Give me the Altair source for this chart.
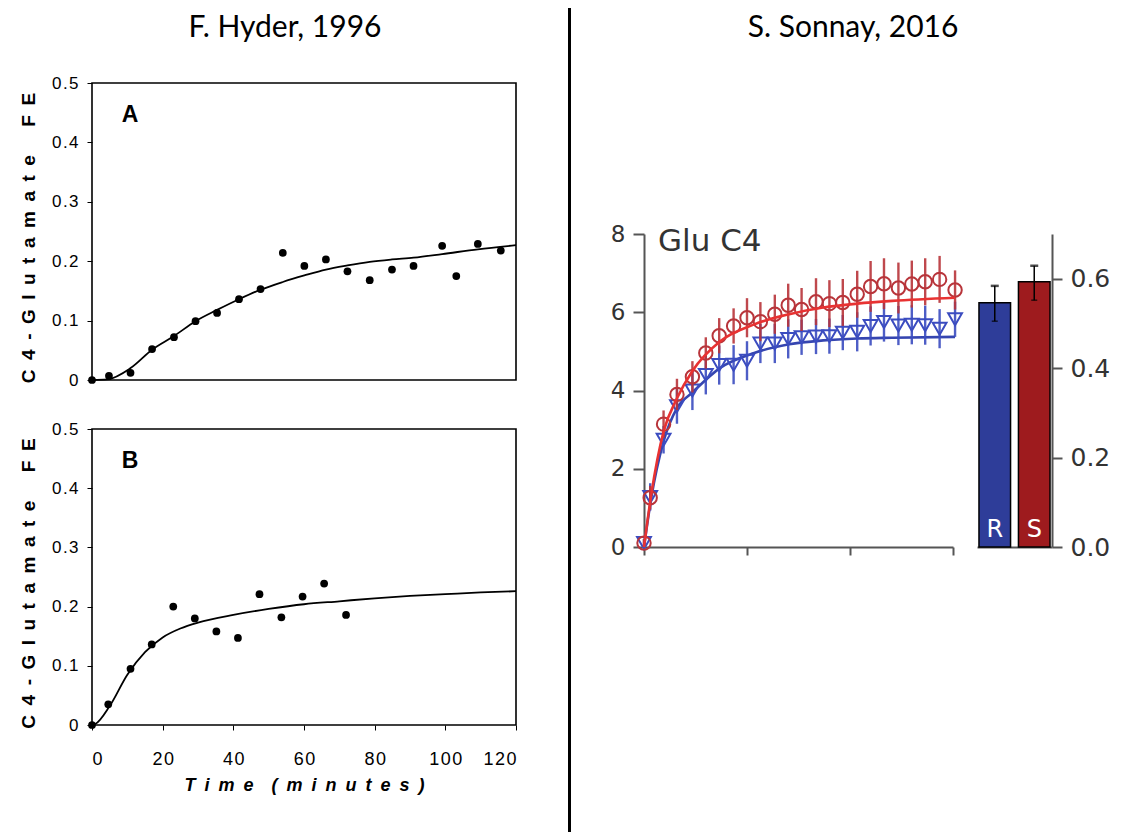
import altair as alt
import pandas as pd

# ---------------- Left: F. Hyder, 1996 ----------------
TITLE_LEFT = "F. Hyder, 1996"
TITLE_RIGHT = "S. Sonnay, 2016"

A_time = [0, 4.8, 10.9, 17.0, 23.2, 29.3, 35.4, 41.6, 47.7, 54.0, 60.1, 66.2, 72.3, 78.6, 84.9, 91.0, 99.1, 103.1, 109.2, 115.7]
A_fe = [0.000, 0.007, 0.012, 0.052, 0.072, 0.099, 0.113, 0.136, 0.153, 0.214, 0.192, 0.203, 0.183, 0.168, 0.186, 0.192, 0.226, 0.175, 0.229, 0.218]
A_fit_time = [0, 4.3, 10.9, 17.0, 23.2, 29.3, 35.4, 41.6, 47.7, 54.0, 60.1, 66.2, 72.3, 78.6, 84.9, 91.0, 99.1, 109.2, 120]
A_fit_fe = [0.000, 0.001, 0.020, 0.051, 0.074, 0.099, 0.118, 0.136, 0.152, 0.165, 0.176, 0.186, 0.193, 0.199, 0.203, 0.206, 0.212, 0.220, 0.227]

B_time = [0, 4.6, 10.9, 16.9, 23.0, 29.1, 35.2, 41.3, 47.4, 53.6, 59.6, 65.7, 71.9]
B_fe = [0.000, 0.035, 0.095, 0.136, 0.200, 0.180, 0.158, 0.147, 0.221, 0.182, 0.217, 0.239, 0.186]
B_fit_time = [0, 1, 5, 10, 15, 20, 25, 30, 40, 50, 60, 70, 80, 90, 100, 110, 120]
B_fit_fe = [0.000, 0.002, 0.032, 0.085, 0.123, 0.148, 0.163, 0.173, 0.186, 0.196, 0.204, 0.209, 0.214, 0.218, 0.221, 0.224, 0.226]

PANEL_LETTERS = ["A", "B"]
Y_TITLE = "C4-Glutamate FE"
X_TITLE = "Time (minutes)"

# ---------------- Right: S. Sonnay, 2016 ----------------
S_time = [0, 6, 19, 32, 47, 60, 73, 87, 100, 113, 127, 140, 153, 167, 180, 193, 207, 220, 233, 247, 260, 273, 287, 302]
S_red = [0.10, 1.26, 3.14, 3.90, 4.35, 4.96, 5.40, 5.65, 5.86, 5.76, 5.95, 6.18, 6.07, 6.27, 6.22, 6.25, 6.46, 6.66, 6.73, 6.62, 6.72, 6.78, 6.84, 6.57]
S_red_err = [0.10, 0.30, 0.35, 0.40, 0.40, 0.40, 0.45, 0.45, 0.50, 0.50, 0.50, 0.55, 0.55, 0.60, 0.60, 0.60, 0.60, 0.65, 0.65, 0.65, 0.60, 0.60, 0.60, 0.50]
S_blue = [0.10, 1.28, 2.74, 3.60, 4.00, 4.40, 4.65, 4.66, 4.76, 5.20, 5.20, 5.32, 5.36, 5.38, 5.39, 5.48, 5.50, 5.65, 5.75, 5.66, 5.68, 5.67, 5.58, 5.82]
S_blue_err = [0.10, 0.35, 0.35, 0.45, 0.50, 0.50, 0.50, 0.50, 0.50, 0.50, 0.50, 0.50, 0.45, 0.45, 0.45, 0.45, 0.50, 0.50, 0.50, 0.50, 0.50, 0.50, 0.50, 0.45]
FIT_time = [0, 7, 19, 32, 47, 74, 107, 141, 174, 207, 241, 302]
FIT_red = [0.00, 1.33, 2.95, 3.80, 4.50, 5.26, 5.69, 5.95, 6.12, 6.22, 6.29, 6.37]
FIT_blue = [0.00, 1.25, 2.70, 3.55, 3.95, 4.58, 4.96, 5.18, 5.28, 5.33, 5.35, 5.37]
GLU_LABEL = "Glu C4"

BAR_cond = ["R", "S"]
BAR_val = [0.546, 0.593]
BAR_lo = [0.505, 0.552]
BAR_hi = [0.584, 0.629]

# ---------------- helpers ----------------
EN = "\u2002"
HAIR = "\u200a"


def spaced(text, gap=EN, word_gap=EN * 3):
    words = text.split(" ")
    return word_gap.join(gap.join(list(w)) for w in words)


LEFT_FONT = "Liberation Sans"
RIGHT_FONT = "DejaVu Sans"


def hyder_panel(times, fe, fit_t, fit_v, letter, show_x, h):
    pts = pd.DataFrame({"t": times, "fe": fe})
    fit = pd.DataFrame({"t": fit_t, "fe": fit_v})
    if show_x:
        xaxis = alt.Axis(
            values=[0, 20, 40, 60, 80, 100, 120], title=spaced(X_TITLE, EN, EN * 2),
            labelExpr="join(split(datum.label, ''), '" + HAIR + "')",
            labelFont=LEFT_FONT, labelFontSize=18, labelColor="black", labelPadding=20,
            tickSize=5, tickColor="black", domain=False, grid=False,
            titleFont=LEFT_FONT, titleFontSize=18, titleFontWeight="bold", titleFontStyle="italic",
            titleColor="black", titleY=60, titleBaseline="middle",
        )
    else:
        xaxis = None
    yaxis = alt.Axis(
        values=[0, 0.1, 0.2, 0.3, 0.4, 0.5], format=".1f",
        labelExpr="datum.value == 0 ? '0' : join(split(datum.label, ''), '" + HAIR + "')",
        labelFont=LEFT_FONT, labelFontSize=17, labelColor="black", labelPadding=9,
        tickSize=5, tickColor="black", domain=False, grid=False,
        title=spaced(Y_TITLE), titleFont=LEFT_FONT, titleFontSize=19, titleFontWeight="bold",
        titleColor="black", titleAngle=270, titleX=-64, titleY=h / 2 + 6, titleBaseline="middle",
        titleAlign="center",
    )
    x = alt.X("t:Q", scale=alt.Scale(domain=[0, 120], nice=False, zero=False), axis=xaxis)
    y = alt.Y("fe:Q", scale=alt.Scale(domain=[0, 0.5], nice=False), axis=yaxis)
    line = alt.Chart(fit).mark_line(color="black", strokeWidth=1.8, interpolate="monotone").encode(x=x, y=y)
    dots = alt.Chart(pts).mark_circle(color="black", size=60, opacity=1).encode(x="t:Q", y="fe:Q")
    lab = alt.Chart(alt.Data(values=[{"l": letter}])).mark_text(
        font=LEFT_FONT, fontSize=23, fontWeight="bold", color="black", align="center", baseline="middle"
    ).encode(x=alt.value(38), y=alt.value(32), text="l:N")
    return alt.layer(line, dots, lab).properties(
        width=424, height=h, view=alt.ViewBackground(stroke="black", strokeWidth=1.6)
    )


def title_chart(text, xpos, w):
    return alt.Chart(alt.Data(values=[{"t": text}])).mark_text(
        font="Lato", fontSize=30, color="black", align="center", baseline="middle"
    ).encode(x=alt.value(xpos), y=alt.value(20), text="t:N").properties(width=w, height=26)


panelA = hyder_panel(A_time, A_fe, A_fit_time, A_fit_fe, PANEL_LETTERS[0], False, 297)
panelB = hyder_panel(B_time, B_fe, B_fit_time, B_fit_fe, PANEL_LETTERS[1], True, 296)
left_col = alt.vconcat(title_chart(TITLE_LEFT, 193, 424), panelA, panelB, spacing=49, bounds="flush")

divider = alt.Chart(alt.Data(values=[{"d": 1}])).mark_rect(color="black").encode(
    x=alt.value(47), x2=alt.value(50), y=alt.value(0), y2=alt.value(824)
).properties(width=89, height=824)

# ---- Sonnay line chart ----
red = pd.DataFrame({"t": S_time, "v": S_red})
red["lo"] = [v - e for v, e in zip(S_red, S_red_err)]
red["hi"] = [v + e for v, e in zip(S_red, S_red_err)]
blue = pd.DataFrame({"t": S_time, "v": S_blue})
blue["lo"] = [v - e for v, e in zip(S_blue, S_blue_err)]
blue["hi"] = [v + e for v, e in zip(S_blue, S_blue_err)]
fit_red = pd.DataFrame({"t": FIT_time, "v": FIT_red})
fit_blue = pd.DataFrame({"t": FIT_time, "v": FIT_blue})

AX_GRAY = "#555555"
LBL_GRAY = "#333333"
RED_LINE = "#e83232"
RED_MARK = "#b8343a"
BLUE_LINE = "#3545b0"
BLUE_MARK = "#3b4cc0"

sx = alt.X("t:Q", scale=alt.Scale(domain=[0, 300], nice=False, zero=False),
           axis=alt.Axis(values=[0, 100, 200, 300], labels=False, title=None, grid=False,
                         tickSize=8, tickWidth=2, tickColor=AX_GRAY, domainColor=AX_GRAY, domainWidth=2))
sy = alt.Y("v:Q", scale=alt.Scale(domain=[0, 8], nice=False),
           axis=alt.Axis(values=[0, 2, 4, 6, 8], title=None, grid=False, tickSize=11, tickWidth=2,
                         tickColor=AX_GRAY, domainColor=AX_GRAY, domainWidth=2, labelFont=RIGHT_FONT,
                         labelFontSize=23, labelPadding=8, labelColor=LBL_GRAY))

fit_b_line = alt.Chart(fit_blue).mark_line(color=BLUE_LINE, strokeWidth=2.6, interpolate="monotone").encode(x=sx, y=sy)
b_err = alt.Chart(blue).mark_rule(color=BLUE_MARK, strokeWidth=2.4, opacity=0.9).encode(x="t:Q", y="lo:Q", y2="hi:Q")
b_pts = alt.Chart(blue).mark_point(shape="triangle-down", filled=False, color=BLUE_MARK, strokeWidth=2,
                                    size=190, opacity=1).encode(x="t:Q", y="v:Q")
r_err = alt.Chart(red).mark_rule(color=RED_MARK, strokeWidth=2.4, opacity=0.9).encode(x="t:Q", y="lo:Q", y2="hi:Q")
r_pts = alt.Chart(red).mark_point(shape="circle", filled=False, color=RED_MARK, strokeWidth=2,
                                   size=180, opacity=1).encode(x="t:Q", y="v:Q")
fit_r_line = alt.Chart(fit_red).mark_line(color=RED_LINE, strokeWidth=2.6, interpolate="monotone").encode(x="t:Q", y="v:Q")
glu = alt.Chart(alt.Data(values=[{"g": GLU_LABEL}])).mark_text(
    font=RIGHT_FONT, fontSize=31, color=LBL_GRAY, align="left", baseline="middle"
).encode(x=alt.value(14), y=alt.value(8), text="g:N")

line_chart = alt.layer(fit_b_line, b_err, b_pts, r_err, r_pts, fit_r_line, glu).properties(width=309, height=313)

# ---- Sonnay bar chart ----
bars_df = pd.DataFrame({"cond": BAR_cond, "val": BAR_val, "lo": BAR_lo, "hi": BAR_hi})
bx = alt.X("cond:N", sort=BAR_cond, scale=alt.Scale(paddingInner=0.2, paddingOuter=0.05),
           axis=alt.Axis(labels=False, ticks=False, title=None, domainColor=AX_GRAY, domainWidth=2))
by = alt.Y("val:Q", scale=alt.Scale(domain=[0, 0.7], nice=False),
           axis=alt.Axis(orient="right", values=[0, 0.2, 0.4, 0.6], format=".1f", title=None, grid=False,
                         tickSize=10, tickWidth=2, tickColor=AX_GRAY, domainColor=AX_GRAY, domainWidth=2,
                         labelFont=RIGHT_FONT, labelFontSize=25, labelPadding=8, labelColor=LBL_GRAY))
bar = alt.Chart(bars_df).mark_bar(stroke="black", strokeWidth=1.5).encode(
    x=bx, y=by,
    color=alt.Color("cond:N", scale=alt.Scale(domain=BAR_cond, range=["#2e3d99", "#9e1b1e"]), legend=None),
)
bar_err = alt.Chart(bars_df).mark_rule(color="black", strokeWidth=1.5).encode(x="cond:N", y="lo:Q", y2="hi:Q")
cap_hi = alt.Chart(bars_df).mark_tick(color="black", thickness=2.5, size=8).encode(x="cond:N", y="hi:Q")
cap_lo = alt.Chart(bars_df).mark_tick(color="black", thickness=1.5, size=6).encode(x="cond:N", y="lo:Q")
bar_lbl = alt.Chart(bars_df).mark_text(font=RIGHT_FONT, fontSize=24, color="white", baseline="middle").encode(
    x="cond:N", y=alt.value(296), text="cond:N")
bar_chart = alt.layer(bar, bar_err, cap_hi, cap_lo, bar_lbl).properties(width=75, height=313)

right_inner = alt.hconcat(line_chart, bar_chart, spacing=24, bounds="flush")
right_col = alt.vconcat(title_chart(TITLE_RIGHT, 209, 300), right_inner, spacing=180)

chart = alt.hconcat(left_col, divider, right_col, spacing=0).properties(
    padding={"left": 10, "top": 0, "right": 0, "bottom": 0}
).configure_view(stroke=None)

chart.save("out.html", embed_options={"renderer": "svg", "actions": False})
